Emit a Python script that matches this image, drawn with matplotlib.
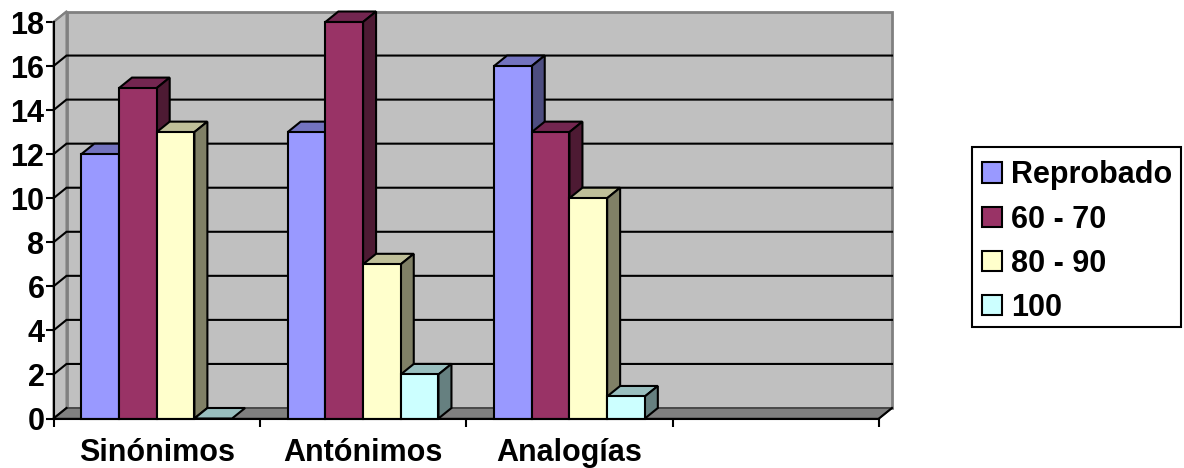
import matplotlib
matplotlib.use('Agg')
import matplotlib.pyplot as plt
import numpy as np
from matplotlib.patches import Polygon, Patch, Rectangle

plt.rcParams['font.family'] = ['Liberation Sans', 'DejaVu Sans']

categories = ['Sinónimos', 'Antónimos', 'Analogías', '']
series_names = ['Reprobado', '60 - 70', '80 - 90', '100']
reprobado = [12, 13, 16]
r60_70 = [15, 18, 13]
r80_90 = [13, 7, 10]
r100 = [0, 2, 1]
series_values = [reprobado, r60_70, r80_90, r100]

front_colors = ['#9999FF', '#993366', '#FFFFCC', '#CCFFFF']
top_colors = ['#7373BF', '#732650', '#BFBF99', '#99BFBF']
side_colors = ['#4D4D80', '#4D1A33', '#808066', '#668080']

W, H = 1184, 468
fig = plt.figure(figsize=(W / 100, H / 100), dpi=100, facecolor='white')

# main axes spans the front plane of the fake 3d box
left, right, bottom, top = 53.5, 879.0, 418.5, 22.0
ax = fig.add_axes([left / W, 1 - bottom / H, (right - left) / W, (bottom - top) / H])
ax.set_xlim(0, 4)
ax.set_ylim(0, 18)
ax.patch.set_visible(False)

# depth of the box, in data units
px_x = 4 / (right - left)
px_y = 18 / (bottom - top)
dx = 13 * px_x
dy = 10.5 * px_y
bar_w = 37.7 * px_x
lw = 1.5
font_size = 22


def poly(pts, fc, ec='black', z=3, width=lw):
    ax.add_patch(Polygon(pts, closed=True, facecolor=fc, edgecolor=ec, linewidth=width,
                         zorder=z, clip_on=False, joinstyle='miter'))


# walls and floor
poly([(dx, dy), (4 + dx, dy), (4 + dx, 18 + dy), (dx, 18 + dy)], '#C0C0C0', '#808080', 1, 2)
poly([(0, 0), (dx, dy), (dx, 18 + dy), (0, 18)], '#C0C0C0', '#808080', 1, 1.5)
poly([(0, 0), (dx, dy), (4 + dx, dy), (4, 0)], '#808080', '#404040', 1.5, 1.2)

# gridlines run along the left wall then the back wall
for v in range(2, 18, 2):
    ax.plot([0, dx, 4 + dx], [v, v + dy, v + dy], color='black', lw=lw, zorder=2,
            clip_on=False, solid_joinstyle='miter')
ax.plot([0, dx], [18, 18 + dy], color='#808080', lw=lw, zorder=2, clip_on=False)
ax.plot([4, 4 + dx], [0, dy], color='black', lw=lw, zorder=2, clip_on=False)
ax.plot([0, dx], [0, dy], color='black', lw=lw, zorder=2, clip_on=False)

# bars, left to right so each front covers the previous side
n = len(series_values)
for c in range(len(reprobado)):
    start = c + 0.5 - n * bar_w / 2
    for s in range(n):
        v = series_values[s][c]
        x0 = start + s * bar_w
        x1 = x0 + bar_w
        z = 3 + c + s * 0.1
        poly([(x0, v), (x0 + dx, v + dy), (x1 + dx, v + dy), (x1, v)], top_colors[s], z=z)
        if v > 0:
            poly([(x1, 0), (x1 + dx, dy), (x1 + dx, v + dy), (x1, v)], side_colors[s], z=z)
            ax.bar(x0, v, bar_w, align='edge', color=front_colors[s], edgecolor='black',
                   linewidth=lw, zorder=z + 0.01, clip_on=False)

for side in ['top', 'right']:
    ax.spines[side].set_visible(False)
for side in ['left', 'bottom']:
    ax.spines[side].set_linewidth(lw)
    ax.spines[side].set_zorder(20)

ax.set_yticks(np.arange(0, 19, 2))
ax.set_xticks(range(5))
ax.set_xticklabels([])
ax.set_xticks(np.arange(4) + 0.5, categories, minor=True)
ax.tick_params(axis='x', which='minor', length=0, pad=14, labelsize=font_size)
ax.tick_params(axis='x', which='major', length=5.5, width=lw)
ax.tick_params(axis='y', length=5.5, width=lw, pad=1, labelsize=font_size)
for t in ax.get_xticklabels(minor=True) + ax.get_yticklabels():
    t.set_fontweight('bold')
    t.set_color('black')

# legend box is drawn apart so its size can match exactly
fig.add_artist(Rectangle((972 / W, 1 - 327 / H), 209 / W, 180 / H, transform=fig.transFigure,
                         facecolor='white', edgecolor='black', linewidth=lw))
handles = [Patch(facecolor=front_colors[i], edgecolor='black', linewidth=lw) for i in range(n)]
leg = fig.legend(handles, series_names, loc='upper left',
                 bbox_to_anchor=(982 / W, 1 - 160.5 / H), bbox_transform=fig.transFigure,
                 frameon=False, borderaxespad=0, borderpad=0, labelspacing=0.46,
                 handlelength=0.66, handleheight=0.66, handletextpad=0.28,
                 prop={'family': ['Liberation Sans'], 'weight': 'bold', 'size': font_size})
leg.set_zorder(5)

fig.savefig('out.png', dpi=100)
